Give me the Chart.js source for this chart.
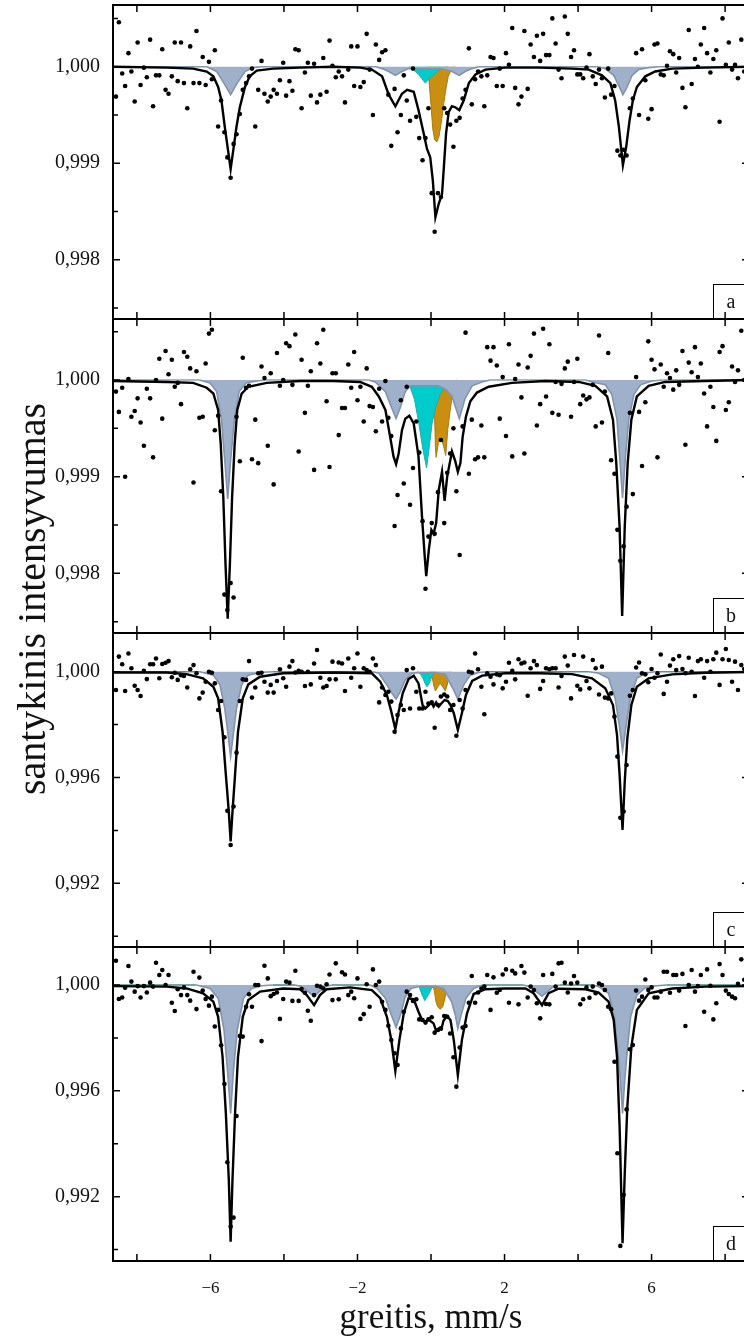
<!DOCTYPE html>
<html><head><meta charset="utf-8">
<script src="https://cdn.jsdelivr.net/npm/chart.js@4.4.1/dist/chart.umd.min.js"></script>
<style>
html,body{margin:0;padding:0;background:#fff;}
body{width:744px;height:1337px;overflow:hidden;position:relative;}
canvas{position:absolute;left:0;top:0;}
</style></head><body>
<canvas id="pa" width="780" height="1337"></canvas>
<canvas id="pb" width="780" height="1337"></canvas>
<canvas id="pc" width="780" height="1337"></canvas>
<canvas id="pd" width="780" height="1337"></canvas>
<script>
// ---- axis / tick definitions ----
const X_TICKS = [-8,-6,-4,-2,0,2,4,6,8];
const X_TICK_LABELS = [-6,-2,2,6];
const Y_MAJOR_AB = [0.998,0.999,1.000];
const Y_MINOR_AB = [0.9975,0.9985,0.9995,1.0005];
const Y_MAJOR_CD = [0.992,0.996,1.000];
const Y_MINOR_CD = [0.990,0.994,0.998];
const PANEL_LABELS = ['a','b','c','d'];
const X_TITLE = 'greitis, mm/s';
const Y_TITLE = 'santykinis intensyvumas';

// ---- channel velocities (mm/s) ----
const VELOCITY = [
-8.57,-8.49,-8.40,-8.32,-8.23,-8.15,-8.06,-7.98,-7.90,-7.81,
-7.73,-7.64,-7.56,-7.48,-7.39,-7.31,-7.22,-7.14,-7.05,-6.97,
-6.89,-6.80,-6.72,-6.63,-6.55,-6.46,-6.38,-6.30,-6.21,-6.13,
-6.04,-5.96,-5.88,-5.79,-5.71,-5.62,-5.54,-5.45,-5.37,-5.29,
-5.20,-5.12,-5.03,-4.95,-4.87,-4.78,-4.70,-4.61,-4.53,-4.44,
-4.36,-4.28,-4.19,-4.11,-4.02,-3.94,-3.85,-3.77,-3.69,-3.60,
-3.52,-3.43,-3.35,-3.27,-3.18,-3.10,-3.01,-2.93,-2.84,-2.76,
-2.68,-2.59,-2.51,-2.42,-2.34,-2.25,-2.17,-2.09,-2.00,-1.92,
-1.83,-1.75,-1.67,-1.58,-1.50,-1.41,-1.33,-1.24,-1.16,-1.08,
-0.99,-0.91,-0.82,-0.74,-0.66,-0.57,-0.49,-0.40,-0.32,-0.23,
-0.15,-0.07,0.02,0.10,0.19,0.27,0.36,0.44,0.52,0.61,
0.69,0.78,0.86,0.94,1.03,1.11,1.20,1.28,1.37,1.45,
1.53,1.62,1.70,1.79,1.87,1.95,2.04,2.12,2.21,2.29,
2.38,2.46,2.54,2.63,2.71,2.80,2.88,2.97,3.05,3.13,
3.22,3.30,3.39,3.47,3.55,3.64,3.72,3.81,3.89,3.98,
4.06,4.14,4.23,4.31,4.40,4.48,4.57,4.65,4.73,4.82,
4.90,4.99,5.07,5.15,5.24,5.32,5.41,5.49,5.58,5.66,
5.74,5.83,5.91,6.00,6.08,6.16,6.25,6.33,6.42,6.50,
6.59,6.67,6.75,6.84,6.92,7.01,7.09,7.18,7.26,7.34,
7.43,7.51,7.60,7.68,7.76,7.85,7.93,8.02,8.10,8.19,
8.27,8.35,8.44,8.52];

// ---- measured relative intensities ----
const DATA_A = [
0.99969,1.00046,0.99993,0.99980,1.00014,0.99995,0.99964,1.00025,0.99981,0.99999,
0.99989,1.00028,0.99959,0.99991,0.99991,1.00018,0.99976,0.99972,0.99990,1.00025,
0.99985,1.00025,0.99983,0.99957,1.00021,0.99983,1.00037,0.99983,1.00010,0.99981,
1.00005,0.99987,1.00017,0.99938,0.99965,0.99932,0.99906,0.99885,0.99920,0.99930,
0.99951,0.99976,0.99983,0.99990,0.99998,0.99938,0.99976,1.00006,0.99972,0.99964,
0.99969,0.99976,0.99972,0.99986,1.00004,0.99970,0.99985,0.99975,1.00018,1.00017,
0.99957,0.99994,1.00004,0.99970,1.00003,0.99963,0.99971,1.00009,0.99974,1.00027,
1.00001,0.99989,0.99995,0.99990,0.99963,0.99997,1.00021,0.99980,1.00021,0.99979,
0.99984,1.00034,0.99997,0.99950,1.00023,1.00007,1.00015,1.00017,0.99971,0.99918,
0.99977,0.99932,0.99950,0.99991,0.99965,0.99944,0.99998,0.99948,0.99926,0.99903,
0.99926,0.99957,0.99869,0.99829,0.99869,0.99865,0.99957,0.99952,0.99940,0.99917,
0.99944,0.99947,0.99967,0.99976,1.00019,0.99961,0.99987,0.99995,0.99990,0.99959,
0.99991,1.00010,1.00009,0.99980,0.99998,0.99980,1.00014,1.00002,1.00040,0.99978,
0.99961,0.99969,1.00037,0.99977,1.00023,1.00010,1.00032,1.00006,1.00034,1.00012,
1.00012,1.00050,1.00024,0.99997,0.99988,1.00052,1.00034,1.00010,1.00017,0.99992,
0.99992,0.99988,0.99999,1.00013,0.99990,0.99982,0.99997,0.99988,0.99968,0.99998,
0.99971,0.99980,0.99913,0.99908,0.99914,0.99908,0.99957,0.99967,1.00014,0.99950,
1.00018,0.99986,0.99946,0.99956,1.00023,1.00024,0.99992,0.99991,1.00001,1.00016,
1.00013,0.99994,1.00009,0.99978,0.99958,1.00038,0.99982,1.00008,1.00000,1.00023,
1.00040,1.00014,0.99994,1.00008,1.00017,0.99943,1.00050,1.00002,1.00025,0.99997,
1.00002,0.99988,1.00028,0.99995];
const DATA_B = [
0.99988,0.99967,0.99992,0.99900,1.00001,0.99962,0.99968,0.99981,0.99956,0.99932,
0.99991,0.99981,0.99920,1.00000,1.00022,0.99960,1.00030,1.00006,1.00021,0.99993,
0.99997,0.99975,1.00029,1.00024,1.00012,0.99894,1.00009,0.99961,0.99962,1.00017,
1.00048,1.00052,0.99948,0.99963,0.99885,0.99778,0.99762,0.99790,0.99775,0.99962,
0.99916,1.00023,0.99992,0.99994,0.99918,0.99959,0.99914,1.00014,1.00002,0.99932,
1.00007,0.99892,1.00028,0.99994,1.00000,1.00038,1.00035,0.99995,1.00047,0.99926,
1.00021,0.99966,0.99994,1.00009,0.99907,1.00038,1.00017,1.00052,0.99978,0.99910,
1.00007,1.00007,0.99943,0.99971,0.99971,1.00016,0.99992,1.00029,0.99979,0.99993,
0.99957,1.00012,0.99973,0.99972,0.99947,0.99991,0.99957,0.99999,0.99961,0.99942,
0.99849,0.99881,0.99979,0.99893,0.99993,0.99871,0.99909,0.99957,0.99925,0.99854,
0.99784,0.99838,0.99852,0.99841,0.99884,0.99938,0.99852,0.99904,0.99924,0.99950,
0.99885,0.99819,0.99952,1.00049,0.99903,0.99959,0.99918,0.99920,0.99953,0.99920,
1.00034,1.00020,1.00034,1.00015,0.99960,1.00003,0.99942,1.00037,0.99921,1.00001,
1.00016,0.99982,0.99924,1.00013,1.00025,1.00048,0.99953,0.99975,1.00053,0.99983,
1.00037,0.99966,0.99998,0.99964,0.99996,1.00012,1.00019,0.99962,0.99998,1.00022,
0.99975,0.99984,0.99980,0.99982,0.99995,0.99952,1.00046,0.99956,0.99988,1.00028,
0.99917,0.99903,0.99845,0.99813,0.99828,0.99869,0.99966,0.99882,1.00003,0.99967,
0.99911,0.99977,1.00040,1.00021,1.00011,0.99920,1.00016,0.99993,1.00007,1.00002,
0.99990,1.00010,0.99995,1.00030,0.99933,1.00018,1.00008,1.00034,1.00003,1.00017,
0.99986,0.99952,0.99993,0.99972,0.99937,1.00029,1.00035,0.99969,0.99977,1.00014,
0.99998,1.00010,1.00051,1.00000];
const DATA_C = [
0.99931,1.00057,1.00028,0.99927,1.00069,1.00013,0.99947,0.99931,0.99908,1.00003,
0.99972,1.00028,1.00028,1.00050,0.99975,1.00029,1.00034,1.00040,0.99979,0.99996,
0.99969,0.99987,0.99984,0.99940,1.00009,1.00025,0.99994,0.99899,0.99921,0.99962,
1.00000,0.99996,0.99956,0.99855,0.99889,0.99752,0.99474,0.99345,0.99490,0.99694,
0.99889,0.99971,0.99969,1.00040,0.99902,0.99940,0.99994,0.99996,0.99962,0.99921,
0.99950,0.99921,0.99965,1.00009,0.99975,0.99943,1.00019,1.00040,0.99997,1.00003,
1.00000,0.99946,1.00000,0.99952,1.00031,1.00082,0.99977,0.99940,0.99946,0.99971,
1.00038,0.99971,1.00035,1.00031,0.99927,1.00050,0.99977,1.00013,1.00069,0.99943,
1.00013,1.00006,1.00000,1.00050,1.00025,0.99884,0.99940,0.99912,0.99924,0.99887,
0.99773,0.99836,0.99874,0.99855,1.00006,0.99861,1.00013,0.99924,0.99861,0.99861,
0.99924,0.99880,0.99884,0.99788,0.99874,0.99906,0.99914,0.99906,0.99855,0.99874,
0.99758,0.99893,0.99861,0.99931,1.00000,0.99997,1.00069,1.00009,0.99943,0.99839,
0.99994,0.99981,0.99952,0.99990,0.99987,0.99937,0.99962,1.00034,1.00003,0.99971,
1.00047,1.00031,1.00035,0.99909,1.00013,1.00040,1.00025,0.99935,0.99965,1.00013,
1.00009,1.00013,1.00013,0.99940,0.99984,1.00057,1.00023,0.99899,1.00063,0.99947,
0.99933,1.00057,0.99965,0.99937,1.00044,1.00013,0.99914,1.00019,0.99902,0.99899,
0.99918,0.99830,0.99679,0.99448,0.99471,0.99647,0.99909,0.99931,1.00016,1.00035,
0.99994,0.99990,0.99960,1.00010,0.99977,0.99994,1.00065,0.99916,0.99962,1.00023,
1.00047,1.00006,1.00059,1.00010,0.99994,1.00053,1.00000,0.99908,1.00040,1.00047,
0.99977,1.00040,1.00000,1.00047,1.00072,0.99950,1.00047,1.00086,1.00044,0.99962,
1.00038,0.99931,1.00025,1.00010];
const DATA_D = [
1.00092,0.99947,0.99953,0.99990,1.00072,1.00013,0.99975,0.99996,0.99953,0.99996,
0.99972,1.00009,0.99994,1.00084,1.00038,1.00057,1.00000,1.00038,0.99933,0.99902,
0.99984,0.99962,0.99991,0.99962,0.99941,1.00050,0.99909,1.00028,0.99979,0.99947,
0.99922,0.99956,0.99843,0.99906,0.99772,0.99626,0.99330,0.99087,0.99121,0.99505,
0.99807,0.99805,0.99918,0.99965,0.99918,1.00000,1.00000,0.99788,1.00073,1.00025,
0.99958,0.99966,0.99972,0.99872,0.99947,1.00013,1.00009,0.99940,1.00054,0.99940,
0.99985,0.99971,0.99903,0.99865,0.99962,0.99997,0.99994,0.99987,1.00003,1.00040,
0.99943,1.00082,0.99946,1.00048,1.00040,0.99962,0.99975,0.99950,1.00025,0.99872,
0.99890,1.00003,0.99918,1.00059,1.00000,1.00013,0.99937,0.99906,0.99846,0.99792,
0.99742,0.99698,0.99836,0.99899,0.99975,0.99962,0.99940,0.99946,0.99870,0.99868,
0.99858,0.99870,0.99878,0.99820,0.99830,0.99836,0.99883,0.99880,0.99817,0.99727,
0.99616,0.99764,0.99839,0.99845,0.99933,1.00034,0.99933,0.99972,0.99987,0.99994,
1.00038,0.99906,1.00029,0.99971,0.99981,1.00040,1.00059,0.99933,1.00054,1.00044,
0.99927,1.00072,1.00047,0.99953,0.99994,0.99981,0.99931,0.99874,1.00038,0.99928,
0.99927,1.00042,0.99994,1.00082,1.00084,1.00009,0.99972,1.00006,1.00034,1.00009,
0.99927,0.99946,0.99991,0.99952,0.99994,0.99969,1.00006,1.00000,0.99981,0.99918,
0.99908,0.99710,0.99364,0.99014,0.99207,0.99530,0.99757,0.99773,0.99979,0.99941,
0.99956,1.00021,0.99981,0.99991,0.99953,0.99953,0.99975,1.00050,1.00050,0.99971,
1.00038,1.00038,0.99979,1.00042,0.99845,1.00000,1.00057,0.99975,0.99996,1.00038,
0.99899,1.00059,0.99997,0.99870,0.99931,1.00079,1.00038,0.99979,0.99966,0.99956,
0.99950,1.00005,1.00097,1.00020];

// ---- fitted envelopes [velocity, intensity] ----
const FIT_A = [[-8.65,1.00000],[-7.19,0.99999],[-6.47,0.99998],[-6.10,0.99995],[-5.92,0.99990],[-5.79,0.99979],[-5.70,0.99965],[-5.61,0.99938],[-5.52,0.99913],[-5.45,0.99894],[-5.38,0.99913],[-5.29,0.99938],[-5.20,0.99958],[-5.06,0.99979],[-4.93,0.99990],[-4.74,0.99996],[-4.29,0.99998],[-3.56,0.99999],[-2.66,1.00000],[-1.93,0.99999],[-1.61,0.99997],[-1.33,0.99990],[-1.15,0.99971],[-0.97,0.99959],[-0.79,0.99972],[-0.65,0.99976],[-0.47,0.99974],[-0.34,0.99955],[-0.20,0.99931],[-0.11,0.99915],[-0.02,0.99906],[0.05,0.99882],[0.12,0.99844],[0.21,0.99858],[0.30,0.99868],[0.35,0.99896],[0.41,0.99931],[0.48,0.99953],[0.57,0.99959],[0.66,0.99958],[0.77,0.99955],[0.89,0.99965],[1.03,0.99983],[1.21,0.99992],[1.48,0.99997],[2.02,0.99999],[2.93,0.99999],[3.84,0.99998],[4.29,0.99997],[4.65,0.99991],[4.88,0.99983],[5.01,0.99965],[5.11,0.99938],[5.22,0.99898],[5.31,0.99917],[5.40,0.99944],[5.49,0.99965],[5.60,0.99979],[5.83,0.99990],[6.10,0.99995],[6.56,0.99998],[7.46,0.99999],[8.65,1.00000]];
const FIT_B = [[-8.65,0.99999],[-7.19,0.99998],[-6.47,0.99997],[-6.10,0.99992],[-5.92,0.99986],[-5.79,0.99969],[-5.72,0.99934],[-5.65,0.99879],[-5.59,0.99810],[-5.53,0.99753],[-5.47,0.99810],[-5.41,0.99879],[-5.34,0.99934],[-5.27,0.99969],[-5.15,0.99986],[-4.97,0.99993],[-4.47,0.99997],[-3.56,0.99999],[-2.66,0.99999],[-1.93,0.99998],[-1.61,0.99993],[-1.42,0.99983],[-1.24,0.99969],[-1.11,0.99941],[-1.02,0.99921],[-0.95,0.99913],[-0.88,0.99924],[-0.79,0.99948],[-0.70,0.99960],[-0.59,0.99963],[-0.47,0.99955],[-0.34,0.99921],[-0.245,0.99859],[-0.17,0.99817],[-0.13,0.99797],[-0.06,0.99824],[0.01,0.99845],[0.07,0.99841],[0.14,0.99852],[0.21,0.99886],[0.30,0.99905],[0.37,0.99875],[0.44,0.99900],[0.51,0.99914],[0.57,0.99926],[0.66,0.99916],[0.73,0.99905],[0.80,0.99914],[0.86,0.99941],[0.95,0.99962],[1.07,0.99978],[1.25,0.99987],[1.57,0.99993],[2.20,0.99997],[3.11,0.99999],[4.02,0.99998],[4.47,0.99994],[4.79,0.99983],[4.95,0.99959],[5.04,0.99914],[5.13,0.99848],[5.20,0.99756],[5.27,0.99848],[5.35,0.99914],[5.45,0.99959],[5.60,0.99983],[5.92,0.99994],[6.37,0.99998],[7.46,0.99999],[8.65,1.00000]];
const FIT_C = [[-8.65,0.99997],[-7.19,0.99997],[-6.65,0.99991],[-6.20,0.99975],[-5.92,0.99943],[-5.79,0.99899],[-5.67,0.99773],[-5.58,0.99610],[-5.50,0.99471],[-5.45,0.99358],[-5.40,0.99471],[-5.33,0.99610],[-5.25,0.99773],[-5.12,0.99899],[-4.97,0.99952],[-4.65,0.99981],[-4.02,0.99994],[-2.66,0.99997],[-1.61,0.99994],[-1.38,0.99962],[-1.20,0.99912],[-1.08,0.99849],[-0.97,0.99783],[-0.88,0.99849],[-0.77,0.99918],[-0.61,0.99972],[-0.47,0.99985],[-0.34,0.99956],[-0.23,0.99874],[-0.155,0.99861],[-0.06,0.99874],[0.01,0.99884],[0.07,0.99868],[0.14,0.99884],[0.21,0.99868],[0.28,0.99880],[0.37,0.99893],[0.46,0.99889],[0.53,0.99874],[0.62,0.99843],[0.73,0.99780],[0.84,0.99843],[0.95,0.99912],[1.12,0.99965],[1.39,0.99985],[2.02,0.99994],[2.93,0.99994],[3.84,0.99991],[4.38,0.99975],[4.74,0.99937],[4.95,0.99874],[5.06,0.99761],[5.13,0.99610],[5.21,0.99402],[5.27,0.99584],[5.34,0.99748],[5.45,0.99874],[5.60,0.99943],[5.92,0.99975],[6.56,0.99990],[7.46,0.99996],[8.65,0.99999]];
const FIT_D = [[-8.65,0.99996],[-7.19,0.99994],[-6.65,0.99987],[-6.20,0.99969],[-5.92,0.99937],[-5.79,0.99880],[-5.67,0.99729],[-5.58,0.99515],[-5.50,0.99263],[-5.45,0.99030],[-5.40,0.99263],[-5.33,0.99515],[-5.25,0.99729],[-5.12,0.99880],[-4.97,0.99943],[-4.65,0.99975],[-4.02,0.99987],[-3.56,0.99984],[-3.38,0.99962],[-3.18,0.99924],[-3.02,0.99962],[-2.84,0.99984],[-2.20,0.99991],[-1.61,0.99981],[-1.38,0.99950],[-1.20,0.99880],[-1.08,0.99792],[-0.97,0.99675],[-0.86,0.99792],[-0.74,0.99893],[-0.61,0.99950],[-0.47,0.99946],[-0.34,0.99899],[-0.245,0.99868],[-0.155,0.99861],[-0.06,0.99870],[0.01,0.99861],[0.07,0.99855],[0.14,0.99827],[0.21,0.99836],[0.28,0.99832],[0.34,0.99865],[0.43,0.99883],[0.53,0.99868],[0.62,0.99792],[0.73,0.99660],[0.84,0.99792],[0.98,0.99893],[1.16,0.99966],[1.48,0.99984],[2.02,0.99987],[2.57,0.99987],[2.79,0.99969],[3.02,0.99924],[3.20,0.99969],[3.47,0.99986],[4.20,0.99984],[4.56,0.99971],[4.83,0.99937],[4.97,0.99868],[5.06,0.99729],[5.13,0.99465],[5.21,0.99024],[5.27,0.99288],[5.34,0.99540],[5.45,0.99767],[5.60,0.99906],[5.92,0.99969],[6.56,0.99987],[7.46,0.99994],[8.65,0.99996]];

// ---- sextet component (grey) ----
const SEXTET_A = [[-8.65,1],[-6.10,1],[-5.83,0.99995],[-5.65,0.99984],[-5.45,0.99971],[-5.27,0.99983],[-5.06,0.99995],[-4.84,0.99999],[-4.60,1],[-1.50,1],[-1.33,0.99998],[-1.15,0.99995],[-0.97,0.99991],[-0.79,0.99995],[-0.61,0.99998],[-0.45,0.99998],[0.25,0.99998],[0.39,0.99997],[0.57,0.99995],[0.77,0.99991],[0.93,0.99995],[1.12,0.99998],[1.30,1],[4.55,1],[4.74,0.99998],[4.97,0.99991],[5.15,0.99977],[5.22,0.99971],[5.31,0.99977],[5.47,0.99991],[5.65,0.99997],[5.92,0.99999],[6.20,1],[8.65,1]];
const SEXTET_B = [[-8.65,1],[-6.30,1],[-6.01,0.99997],[-5.83,0.99988],[-5.70,0.99959],[-5.61,0.99917],[-5.53,0.99877],[-5.45,0.99917],[-5.35,0.99959],[-5.22,0.99988],[-5.03,0.99997],[-4.74,0.99999],[-4.50,1],[-1.70,1],[-1.52,0.99998],[-1.24,0.99988],[-1.08,0.99972],[-0.95,0.99960],[-0.83,0.99972],[-0.70,0.99988],[-0.56,0.99994],[-0.40,0.99994],[-0.10,0.99994],[0.20,0.99994],[0.41,0.99990],[0.57,0.99983],[0.77,0.99960],[0.93,0.99981],[1.12,0.99994],[1.39,0.99998],[1.60,1],[4.20,1],[4.38,0.99998],[4.74,0.99995],[4.92,0.99985],[5.06,0.99959],[5.13,0.99921],[5.21,0.99878],[5.29,0.99921],[5.38,0.99959],[5.52,0.99985],[5.70,0.99995],[6.01,0.99999],[6.30,1],[8.65,1]];
const SEXTET_C = [[-8.65,1],[-6.29,1],[-5.92,0.99987],[-5.74,0.99950],[-5.61,0.99861],[-5.52,0.99761],[-5.45,0.99679],[-5.38,0.99761],[-5.29,0.99861],[-5.15,0.99950],[-4.97,0.99987],[-4.65,0.99997],[-4.30,1],[-1.60,1],[-1.42,0.99994],[-1.20,0.99950],[-1.06,0.99918],[-0.95,0.99897],[-0.84,0.99924],[-0.70,0.99969],[-0.52,0.99994],[-0.30,0.99996],[0.10,0.99996],[0.39,0.99990],[0.57,0.99943],[0.73,0.99897],[0.89,0.99950],[1.07,0.99987],[1.30,0.99997],[1.60,1],[4.30,1],[4.56,0.99994],[4.83,0.99975],[5.01,0.99899],[5.12,0.99798],[5.21,0.99700],[5.31,0.99798],[5.42,0.99899],[5.60,0.99975],[5.83,0.99994],[6.10,1],[8.65,1]];
const SEXTET_D = [[-8.65,1],[-6.38,1],[-6.01,0.99987],[-5.79,0.99950],[-5.63,0.99830],[-5.53,0.99666],[-5.45,0.99515],[-5.38,0.99666],[-5.27,0.99830],[-5.10,0.99950],[-4.88,0.99987],[-4.60,0.99997],[-4.30,1],[-3.70,1],[-3.52,0.99994],[-3.34,0.99975],[-3.18,0.99956],[-3.04,0.99975],[-2.88,0.99994],[-2.70,1],[-1.65,1],[-1.47,0.99987],[-1.24,0.99950],[-1.08,0.99887],[-0.95,0.99840],[-0.83,0.99887],[-0.70,0.99956],[-0.54,0.99987],[-0.30,0.99995],[0.10,0.99995],[0.34,0.99987],[0.56,0.99937],[0.66,0.99887],[0.73,0.99836],[0.82,0.99887],[0.95,0.99950],[1.16,0.99987],[1.40,1],[2.50,1],[2.70,0.99994],[2.86,0.99975],[3.02,0.99958],[3.17,0.99975],[3.33,0.99994],[3.50,1],[4.40,1],[4.56,0.99994],[4.83,0.99969],[4.99,0.99880],[5.08,0.99754],[5.15,0.99641],[5.21,0.99515],[5.27,0.99641],[5.34,0.99754],[5.43,0.99880],[5.60,0.99962],[5.83,0.99990],[6.15,0.99997],[6.40,1],[8.65,1]];

// ---- doublet components (cyan, orange) ----
const CYAN_A = [[-0.60,1],[-0.52,0.99998],[-0.34,0.99992],[-0.155,0.99983],[0.03,0.99990],[0.21,0.99996],[0.35,0.99998],[0.45,1]];
const CYAN_B = [[-0.80,1],[-0.65,0.99996],[-0.57,0.99993],[-0.45,0.99980],[-0.33,0.99955],[-0.22,0.99928],[-0.12,0.99909],[-0.05,0.99930],[0.03,0.99955],[0.13,0.99972],[0.25,0.99985],[0.38,0.99993],[0.50,0.99997],[0.70,1]];
const CYAN_C = [[-0.38,1],[-0.30,0.99995],[-0.22,0.99975],[-0.16,0.99955],[-0.11,0.99943],[-0.05,0.99955],[0.02,0.99980],[0.08,0.99995],[0.12,1]];
const CYAN_D = [[-0.40,1],[-0.32,0.99992],[-0.25,0.99965],[-0.17,0.99941],[-0.08,0.99960],[0.02,0.99988],[0.10,0.99998],[0.14,1]];
const ORANGE_A = [[-0.10,1],[-0.06,0.99988],[0.00,0.99960],[0.05,0.99935],[0.10,0.99924],[0.16,0.99922],[0.22,0.99928],[0.28,0.99942],[0.34,0.99960],[0.41,0.99978],[0.47,0.99990],[0.55,0.99997],[0.65,1]];
const ORANGE_B = [[-0.05,1],[0.05,0.99985],[0.10,0.99960],[0.12,0.99930],[0.14,0.99920],[0.20,0.99935],[0.27,0.99940],[0.34,0.99932],[0.40,0.99922],[0.46,0.99950],[0.52,0.99968],[0.56,0.99979],[0.62,0.99992],[0.70,1]];
const ORANGE_C = [[-0.02,1],[0.03,0.99980],[0.08,0.99945],[0.12,0.99927],[0.18,0.99942],[0.25,0.99956],[0.32,0.99942],[0.39,0.99927],[0.44,0.99950],[0.50,0.99985],[0.55,1]];
const ORANGE_D = [[0.03,1],[0.09,0.99980],[0.13,0.99940],[0.18,0.99918],[0.25,0.99908],[0.32,0.99918],[0.38,0.99950],[0.42,0.99985],[0.46,1]];

// ---- panel layout ----
const PAGE_H = 1337;
const PANELS = [
 {id:'pa', label:PANEL_LABELS[0], top:5,   bottom:319,  yMin:0.997386, yMax:1.000639, major:Y_MAJOR_AB, minor:Y_MINOR_AB, data:DATA_A, fit:FIT_A, sextet:SEXTET_A, cyan:CYAN_A, orange:ORANGE_A, base:'#8796ad'},
 {id:'pb', label:PANEL_LABELS[1], top:319, bottom:633,  yMin:0.997383, yMax:1.000631, major:Y_MAJOR_AB, minor:Y_MINOR_AB, data:DATA_B, fit:FIT_B, sextet:SEXTET_B, cyan:CYAN_B, orange:ORANGE_B, base:'#8ea3a6'},
 {id:'pc', label:PANEL_LABELS[2], top:633, bottom:947,  yMin:0.989592, yMax:1.001463, major:Y_MAJOR_CD, minor:Y_MINOR_CD, data:DATA_C, fit:FIT_C, sextet:SEXTET_C, cyan:CYAN_C, orange:ORANGE_C, base:'#5a9090'},
 {id:'pd', label:PANEL_LABELS[3], top:947, bottom:1261, yMin:0.989570, yMax:1.001437, major:Y_MAJOR_CD, minor:Y_MINOR_CD, data:DATA_D, fit:FIT_D, sextet:SEXTET_D, cyan:CYAN_D, orange:ORANGE_D, base:'#4f8a8a', last:true}
];

const SERIF = '"Liberation Serif", "Times New Roman", serif';
const pairs = arr => arr.map(([x,y]) => ({x, y}));
const fmt = v => v.toFixed(3).replace('.', ',');

const framePlugin = {
  id: 'frame',
  afterDraw(chart, args, o) {
    const {ctx, chartArea: a, scales: {x, y}} = chart;
    ctx.save();
    // panel letter box
    ctx.fillStyle = '#fff';
    ctx.fillRect(713, a.bottom - 35, a.right - 713, 35);
    ctx.strokeStyle = '#000';
    ctx.lineWidth = 1;
    ctx.strokeRect(713.5, a.bottom - 34.5, a.right - 713.5, 34.5);
    ctx.fillStyle = '#111';
    ctx.font = '20px ' + SERIF;
    ctx.textAlign = 'center';
    ctx.textBaseline = 'alphabetic';
    ctx.fillText(o.label, 731, a.bottom - 11);
    // inward ticks
    ctx.lineWidth = 1.5;
    ctx.beginPath();
    X_TICKS.forEach(v => {
      const px = x.getPixelForValue(v);
      ctx.moveTo(px, a.top); ctx.lineTo(px, a.top + 7);
      ctx.moveTo(px, a.bottom); ctx.lineTo(px, a.bottom - 7);
    });
    o.major.forEach(v => {
      const py = y.getPixelForValue(v);
      ctx.moveTo(a.left, py); ctx.lineTo(a.left + 7, py);
      ctx.moveTo(a.right, py); ctx.lineTo(a.right - 7, py);
    });
    o.minor.forEach(v => {
      const py = y.getPixelForValue(v);
      ctx.moveTo(a.left, py); ctx.lineTo(a.left + 5, py);
      ctx.moveTo(a.right, py); ctx.lineTo(a.right - 5, py);
    });
    ctx.stroke();
    // frame
    ctx.lineWidth = 2;
    ctx.strokeRect(a.left, a.top, a.right - a.left, a.bottom - a.top);
    if (o.last) {
      ctx.fillStyle = '#111';
      ctx.font = '17px ' + SERIF;
      ctx.textAlign = 'center';
      ctx.textBaseline = 'alphabetic';
      X_TICK_LABELS.forEach(v => {
        const txt = v < 0 ? '\u2212' + Math.abs(v) : String(v);
        ctx.fillText(txt, x.getPixelForValue(v), 1293);
      });
      ctx.font = '35px ' + SERIF;
      ctx.fillText(X_TITLE, x.getPixelForValue(0), 1328);
      ctx.save();
      ctx.translate(45, 599);
      ctx.rotate(-Math.PI / 2);
      ctx.font = '40px ' + SERIF;
      ctx.fillText(Y_TITLE, 0, 0);
      ctx.restore();
    }
    ctx.restore();
  }
};

PANELS.forEach(p => {
  const ticksAll = p.major.concat(p.minor).sort((m, n) => m - n);
  new Chart(document.getElementById(p.id), {
    type: 'line',
    data: {
      datasets: [
        { label: 'matavimas', data: p.data.map((v, i) => ({x: VELOCITY[i], y: v})), showLine: false,
          pointRadius: 2.3, pointBackgroundColor: '#000', pointBorderWidth: 0, pointHoverRadius: 0 },
        { label: 'suma', data: pairs(p.fit), borderColor: '#000', borderWidth: 2.4, pointRadius: 0, tension: 0, fill: false },
        { label: 'sekstetas', data: pairs(p.sextet), borderColor: '#8393ab', borderWidth: 1.6, pointRadius: 0, tension: 0,
          backgroundColor: '#9fb0ca', fill: {value: 1},
          segment: { borderColor: c => (c.p0.parsed.y === 1 && c.p1.parsed.y === 1) ? p.base : '#8393ab' } },
        { label: 'dubletas 1', data: pairs(p.cyan), borderColor: '#2aa8a8', borderWidth: 1, pointRadius: 0, tension: 0,
          backgroundColor: '#00cccc', fill: {value: 1} },
        { label: 'dubletas 2', data: pairs(p.orange), borderColor: '#a87a12', borderWidth: 1, pointRadius: 0, tension: 0,
          backgroundColor: '#c98f10', fill: {value: 1} }
      ]
    },
    options: {
      responsive: false,
      animation: false,
      devicePixelRatio: 1,
      events: [],
      layout: { padding: { left: 0, right: 31, top: p.top, bottom: PAGE_H - p.bottom } },
      plugins: {
        legend: { display: false },
        tooltip: { enabled: false },
        frame: { label: p.label, major: p.major, minor: p.minor, last: !!p.last }
      },
      scales: {
        x: { type: 'linear', min: -8.65, max: 8.65, display: false },
        y: {
          type: 'linear', min: p.yMin, max: p.yMax,
          afterBuildTicks: s => { s.ticks = ticksAll.map(v => ({value: v})); },
          afterFit: s => { s.width = 113; s.paddingTop = 0; s.paddingBottom = 0; },
          grid: { display: false, drawTicks: false },
          border: { display: false },
          ticks: {
            autoSkip: false, padding: 13, color: '#111',
            font: { family: SERIF, size: 20 },
            callback: v => p.major.includes(v) ? fmt(v) : ''
          }
        }
      }
    },
    plugins: [framePlugin]
  });
});
</script></body></html>
